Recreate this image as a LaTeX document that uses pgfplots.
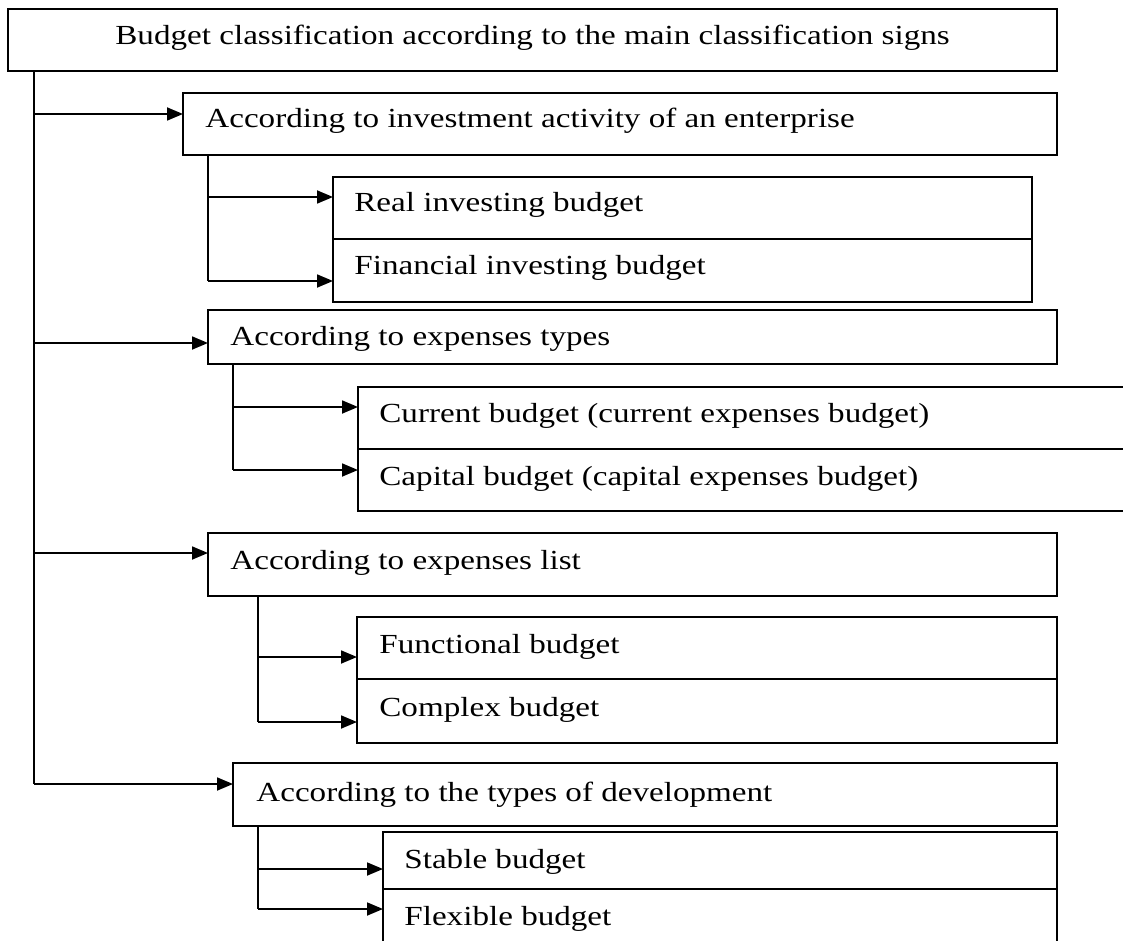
\documentclass[border=0pt]{standalone}
\usepackage{pgfplots}
\pgfplotsset{compat=1.18}
\usepackage{fontspec}
\setmainfont{Liberation Serif}[FakeStretch=1.2]
\usetikzlibrary{arrows.meta}
\begin{document}
\begin{tikzpicture}
\begin{axis}[
  scale only axis, width=561.5pt, height=470.5pt,
  xmin=0, xmax=1123, ymin=0, ymax=941, y dir=reverse,
  hide axis, clip=false,
]
\tikzset{bx/.style={line width=0.9pt, draw=black},
  ar/.style={line width=0.9pt, -{Triangle[length=8pt,width=6.5pt]}},
  tx/.style={anchor=base west, inner sep=0pt, font=\fontsize{13.8}{16}\selectfont}}
% boxes
\draw[bx] (axis cs:8,9) rectangle (axis cs:1057,71);
\draw[bx] (axis cs:183,93) rectangle (axis cs:1057,155);
\draw[bx] (axis cs:333,177) rectangle (axis cs:1032,239);
\draw[bx] (axis cs:333,239) rectangle (axis cs:1032,302);
\draw[bx] (axis cs:208,310) rectangle (axis cs:1057,364);
\draw[bx] (axis cs:1130,387) -- (axis cs:358,387) -- (axis cs:358,511) -- (axis cs:1130,511);
\draw[bx] (axis cs:358,449) -- (axis cs:1130,449);
\draw[bx] (axis cs:208,533) rectangle (axis cs:1057,596);
\draw[bx] (axis cs:357,617) rectangle (axis cs:1057,679);
\draw[bx] (axis cs:357,679) rectangle (axis cs:1057,743);
\draw[bx] (axis cs:233,763) rectangle (axis cs:1057,826);
\draw[bx] (axis cs:383,950) -- (axis cs:383,832) -- (axis cs:1057,832) -- (axis cs:1057,950);
\draw[bx] (axis cs:383,889) -- (axis cs:1057,889);
% connectors
\draw[bx] (axis cs:34,71) -- (axis cs:34,784);
\draw[ar] (axis cs:34,114) -- (axis cs:183,114);
\draw[ar] (axis cs:34,343) -- (axis cs:208,343);
\draw[ar] (axis cs:34,553) -- (axis cs:208,553);
\draw[ar] (axis cs:34,784) -- (axis cs:233,784);
\draw[bx] (axis cs:208,155) -- (axis cs:208,281);
\draw[ar] (axis cs:208,197) -- (axis cs:333,197);
\draw[ar] (axis cs:208,281) -- (axis cs:333,281);
\draw[bx] (axis cs:233,364) -- (axis cs:233,470);
\draw[ar] (axis cs:233,407) -- (axis cs:358,407);
\draw[ar] (axis cs:233,470) -- (axis cs:358,470);
\draw[bx] (axis cs:258,596) -- (axis cs:258,722);
\draw[ar] (axis cs:258,657) -- (axis cs:357,657);
\draw[ar] (axis cs:258,722) -- (axis cs:357,722);
\draw[bx] (axis cs:258,826) -- (axis cs:258,909);
\draw[ar] (axis cs:258,869) -- (axis cs:383,869);
\draw[ar] (axis cs:258,909) -- (axis cs:383,909);
% texts
\node[tx] at (axis cs:115,45) {Budget classification according to the main classification signs};
\node[tx] at (axis cs:205,128) {According to investment activity of an enterprise};
\node[tx] at (axis cs:354,212) {Real investing budget};
\node[tx] at (axis cs:354,274) {Financial investing budget};
\node[tx] at (axis cs:230,345) {According to expenses types};
\node[tx] at (axis cs:379,422) {Current budget (current expenses budget)};
\node[tx] at (axis cs:379,485) {Capital budget (capital expenses budget)};
\node[tx] at (axis cs:230,569) {According to expenses list};
\node[tx] at (axis cs:379,653) {Functional budget};
\node[tx] at (axis cs:379,716) {Complex budget};
\node[tx] at (axis cs:256,801) {According to the types of development};
\node[tx] at (axis cs:404,868) {Stable budget};
\node[tx] at (axis cs:404,925) {Flexible budget};
\end{axis}
\pgfresetboundingbox
\useasboundingbox (current axis.south west) rectangle (current axis.north east);
\end{tikzpicture}
\end{document}
